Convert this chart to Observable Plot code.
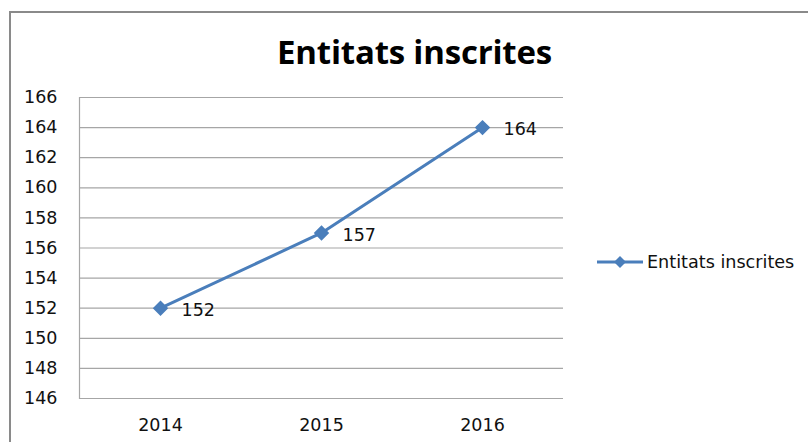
<!DOCTYPE html>
<html>
<head>
<meta charset="utf-8">
<script src="https://cdn.jsdelivr.net/npm/d3@7"></script>
<script src="https://cdn.jsdelivr.net/npm/@observablehq/plot@0.6"></script>
<style>
  body { margin: 0; background: #fff; }
  #wrap { position: relative; width: 808px; height: 442px; overflow: hidden; background: #fff; font-family: "DejaVu Sans", sans-serif; }
  #border { position: absolute; left: 9px; top: 11px; width: 900px; height: 500px; border: 2px solid #8a8a8a; box-sizing: border-box; }
  #title { position: absolute; left: 0; width: 829px; top: 35px; line-height: 1; text-align: center; font-family: "Open Sans", sans-serif; font-weight: 700; font-size: 33px; color: #000; letter-spacing: -0.2px; }
  #chart { position: absolute; left: 0; top: 0; }
  #legend { position: absolute; left: 597px; top: 251px; display: flex; align-items: center; font-size: 17.6px; color: #111; font-family: "DejaVu Sans", sans-serif; }
</style>
</head>
<body>
<div id="wrap">
  <div id="border"></div>
  <div id="title">Entitats inscrites</div>
  <div id="chart"></div>
  <div id="legend"></div>
</div>
<script>
const years = ["2014", "2015", "2016"];
const values = [152, 157, 164];
const yTicks = [146, 148, 150, 152, 154, 156, 158, 160, 162, 164, 166];
const seriesName = "Entitats inscrites";
const color = "#4a7ebb";

const data = years.map((y, i) => ({year: y, value: values[i]}));

const plot = Plot.plot({
  width: 808,
  height: 442,
  marginLeft: 79,
  marginRight: 245,
  marginTop: 97,
  marginBottom: 44,
  style: {fontFamily: "DejaVu Sans, sans-serif", fontSize: "17.5px", color: "#111", background: "transparent", overflow: "visible"},
  x: {type: "point", domain: years, padding: 0.5, label: null},
  y: {domain: [146, 166], label: null},
  marks: [
    Plot.gridY(yTicks, {stroke: "#a6a6a6", strokeOpacity: 1, strokeWidth: 1.2}),
    Plot.frame({anchor: "left", stroke: "#a6a6a6", strokeWidth: 1.2}),
    Plot.axisY(yTicks, {tickSize: 0, tickPadding: 22, fontSize: 17.5, fill: "#111"}),
    Plot.axisX(years, {tickSize: 0, tickPadding: 20, fontSize: 17.5, fill: "#111"}),
    Plot.line(data, {x: "year", y: "value", stroke: color, strokeWidth: 3}),
    Plot.dot(data, {x: "year", y: "value", symbol: "diamond2", fill: color, stroke: color, r: 6}),
    Plot.text(data, {x: "year", y: "value", text: d => String(d.value), dx: 21, dy: 2, textAnchor: "start", fontSize: 17.5, fill: "#111"})
  ]
});
document.getElementById("chart").appendChild(plot);

const leg = document.getElementById("legend");
leg.innerHTML = `<svg width="48" height="22" style="margin-right:2px"><line x1="0" y1="11" x2="46" y2="11" stroke="${color}" stroke-width="3"/><path d="M23,5 L29,11 L23,17 L17,11 Z" fill="${color}"/></svg><span>${seriesName}</span>`;
</script>
</body>
</html>
